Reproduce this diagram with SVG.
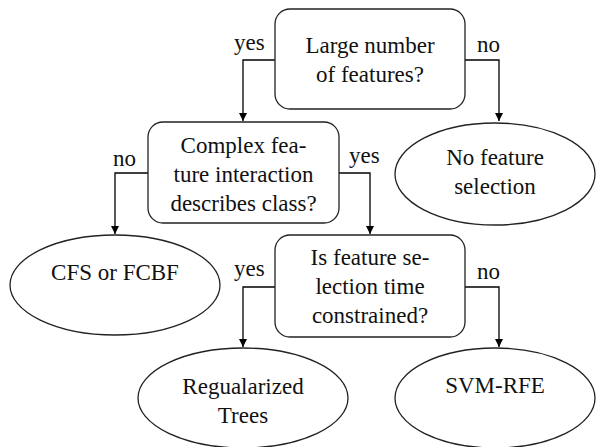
<svg xmlns="http://www.w3.org/2000/svg" width="597" height="447" viewBox="0 0 597 447">
<defs>
<marker id="arr" viewBox="0 0 10 10" refX="10" refY="5" markerWidth="8" markerHeight="8" markerUnits="userSpaceOnUse" orient="auto">
<path d="M0,0 L10,5 L0,10 z" fill="#000"/>
</marker>
</defs>
<rect width="597" height="447" fill="#fff"/>
<g id="connectors" fill="none" stroke="#000" stroke-width="1.3" marker-end="url(#arr)">
<path d="M275,60 H243 V121"/>
<path d="M465,60 H499 V121"/>
<path d="M148,173 H115 V234"/>
<path d="M339,173 H370 V234"/>
<path d="M275,287 H243 V347"/>
<path d="M465,287 H499 V347"/>
</g>
<g id="labels" font-family="Liberation Serif" font-size="23" fill="#111">
<text x="234" y="50">yes</text>
<text x="477" y="52">no</text>
<text x="113" y="166">no</text>
<text x="349" y="163">yes</text>
<text x="234" y="276">yes</text>
<text x="477" y="279">no</text>
</g>
<g id="nodes" fill="#fff" stroke="#222" stroke-width="1.3">
<g id="q1">
<rect x="275" y="9" width="190" height="100" rx="15"/>
</g>
<g id="nofs">
<ellipse cx="495" cy="174" rx="100" ry="51"/>
</g>
<g id="q2">
<rect x="148" y="122" width="191" height="101" rx="15"/>
</g>
<g id="cfs">
<ellipse cx="115" cy="285" rx="105" ry="50"/>
</g>
<g id="q3">
<rect x="275" y="235" width="190" height="102" rx="15"/>
</g>
<g id="rt">
<ellipse cx="243" cy="398" rx="105" ry="50"/>
</g>
<g id="svm">
<ellipse cx="495" cy="398" rx="100" ry="50"/>
</g>
</g>
<g id="nodetext" font-family="Liberation Serif" font-size="23" fill="#111" text-anchor="middle">
<text x="370" y="53">Large number</text>
<text x="370" y="82">of features?</text>
<text x="495" y="165">No feature</text>
<text x="495" y="194">selection</text>
<text x="243.5" y="153">Complex fea-</text>
<text x="243.5" y="182">ture interaction</text>
<text x="243.5" y="211">describes class?</text>
<text x="115" y="280">CFS or FCBF</text>
<text x="370" y="265">Is feature se-</text>
<text x="370" y="294">lection time</text>
<text x="370" y="323">constrained?</text>
<text x="243" y="394">Regualarized</text>
<text x="243" y="423">Trees</text>
<text x="495" y="393">SVM-RFE</text>
</g>
</svg>
